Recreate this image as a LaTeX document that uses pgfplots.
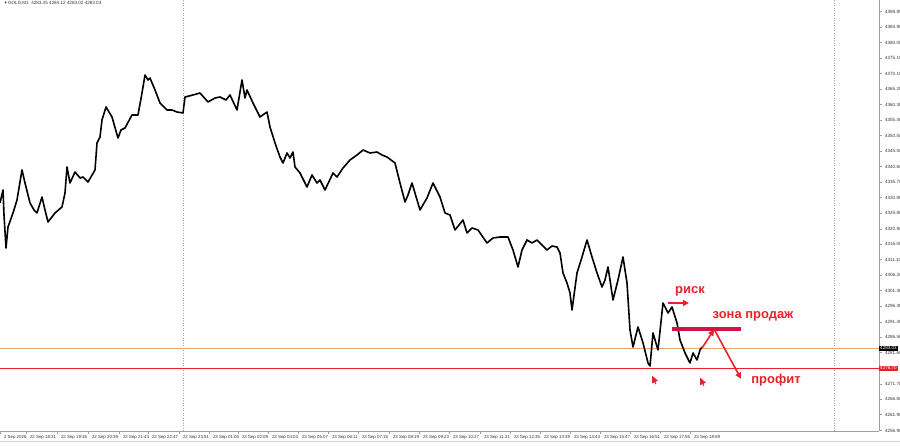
\documentclass[border=0pt]{standalone}
\usepackage{pgfplots}
\pgfplotsset{compat=1.18}
\usepackage{fontspec}
\setmainfont{Liberation Sans}
\newfontfamily\dejavu{DejaVu Sans}
\usetikzlibrary{arrows.meta}
\definecolor{mtred}{RGB}{232,34,40}
\definecolor{zonered}{RGB}{208,18,68}
\definecolor{priceline}{RGB}{228,168,110}
\begin{document}
\begin{tikzpicture}
\useasboundingbox (0bp,0bp) rectangle (900bp,447bp);
\begin{axis}[
  at={(0bp,16bp)}, anchor=south west,
  scale only axis, width=879bp, height=431bp,
  xmin=0, xmax=879, ymin=4256.74, ymax=4393.5,
  axis x line*=bottom, axis y line*=right,
  axis line style={gray!75, line width=0.6bp},
  clip=false,
  tick align=outside, major tick length=3bp,
  tick style={gray!75, line width=0.5bp},
  /pgf/number format/assume math mode=true,
  /pgf/number format/.cd, fixed, fixed zerofill, precision=2, 1000 sep={},
  /pgfplots/.cd,
  ytick={4389.85,4384.90,4380.00,4375.10,4370.10,4365.20,4360.30,4355.40,4350.50,4345.50,4340.60,4335.70,4330.80,4325.80,4320.90,4316.00,4311.10,4306.20,4301.30,4296.30,4291.40,4286.50,4281.60,4271.70,4266.80,4261.90,4256.90},
  yticklabel style={font=\fontsize{4.6}{5}\selectfont, text=black!80, anchor=west, xshift=-0.5bp},
  xtick={0,26,57,88,119,148,179,209,238,268,298,328,358,389,419,449,480,510,540,570,600,630,660,690},
  xticklabels={2 Sep 2026,22 Sep 18:31,22 Sep 19:35,22 Sep 20:39,22 Sep 21:43,22 Sep 22:47,22 Sep 23:51,23 Sep 01:05,23 Sep 02:09,23 Sep 04:03,23 Sep 05:07,23 Sep 06:11,23 Sep 07:15,23 Sep 08:19,23 Sep 09:23,23 Sep 10:27,23 Sep 11:31,23 Sep 12:35,23 Sep 13:39,23 Sep 14:43,23 Sep 15:47,23 Sep 16:51,23 Sep 17:55,23 Sep 18:59},
  xticklabel style={font=\fontsize{4.4}{5}\selectfont, text=black!80, anchor=north west, xshift=0.5bp, yshift=2bp},
]
% separators
\draw[gray!70, dash pattern=on 1bp off 1.5bp, line width=0.5bp] (axis cs:183,4256.74) -- (axis cs:183,4393.5);
\draw[gray!70, dash pattern=on 1bp off 1.5bp, line width=0.5bp] (axis cs:834,4256.74) -- (axis cs:834,4393.5);
% horizontal levels
\draw[priceline, line width=0.7bp] (axis cs:0,4283.03) -- (axis cs:879,4283.03);
\draw[mtred, line width=1.1bp] (axis cs:0,4276.70) -- (axis cs:879,4276.70);
% price series
\addplot[black, line width=1.6bp, line join=round] coordinates {
(0,4329.09)(3,4333.21)(4,4325.28)(6,4314.81)(8,4321.47)(13,4325.92)(17,4330.04)(22,4339.56)(25,4335.43)(30,4329.09)(34,4326.87)(37,4325.92)(42,4330.99)(45,4326.87)(48,4323.06)(55,4325.92)(62,4327.82)(65,4332.26)(67,4340.51)(70,4335.43)(75,4338.92)(80,4337.02)(83,4337.34)(88,4335.75)(95,4339.56)(97,4348.13)(100,4350.03)(102,4355.42)(106,4359.55)(112,4356.38)(118,4349.71)(121,4352.25)(125,4352.89)(132,4357.01)(138,4357.01)(142,4363.99)(145,4369.70)(148,4368.12)(150,4368.75)(155,4364.94)(160,4360.82)(167,4358.60)(172,4358.60)(177,4357.96)(183,4357.65)(185,4362.72)(193,4363.36)(200,4363.99)(208,4361.14)(215,4362.40)(220,4362.72)(226,4361.77)(230,4363.36)(237,4358.60)(240,4364.31)(242,4368.12)(245,4362.40)(247,4364.94)(253,4360.82)(260,4356.38)(267,4357.96)(270,4353.20)(275,4348.13)(280,4343.68)(283,4341.78)(287,4344.95)(290,4343.37)(293,4345.27)(295,4340.51)(300,4338.61)(307,4334.16)(312,4337.97)(317,4335.43)(320,4336.39)(325,4333.21)(333,4338.61)(337,4337.34)(343,4340.19)(350,4342.73)(357,4344.32)(363,4345.90)(370,4344.95)(377,4345.27)(382,4344.32)(387,4343.68)(395,4341.78)(400,4335.43)(405,4329.41)(408,4331.63)(412,4335.43)(420,4326.87)(427,4330.67)(433,4335.43)(440,4330.99)(445,4325.92)(450,4325.28)(455,4320.52)(463,4323.69)(467,4319.57)(472,4321.16)(478,4320.52)(487,4316.40)(493,4317.98)(500,4318.30)(508,4318.30)(513,4314.17)(518,4308.78)(522,4314.17)(527,4317.35)(532,4316.40)(537,4317.35)(542,4315.76)(547,4314.17)(552,4315.44)(557,4315.13)(560,4313.22)(563,4306.88)(567,4303.70)(570,4300.53)(572,4295.14)(577,4306.88)(582,4311.95)(587,4317.35)(592,4311.95)(597,4306.88)(602,4302.43)(605,4304.66)(608,4308.78)(613,4298.31)(618,4304.66)(623,4311.95)(627,4303.70)(630,4288.79)(633,4283.40)(638,4289.74)(643,4284.67)(648,4278.32)(650,4277.37)(653,4287.84)(658,4282.44)(663,4297.36)(668,4294.19)(672,4296.09)(677,4291.01)(680,4285.62)(685,4281.49)(690,4278.32)(693,4281.49)(697,4279.27)(700,4282.44)(702,4283.40)
};
% annotations
\draw[zonered, line width=3.5bp] (axis cs:672,4289.11) -- (axis cs:741,4289.11);
\draw[mtred, line width=1.5bp, -{Triangle[length=6bp,width=6bp]}] (axis cs:668,4297.36) -- (axis cs:689,4297.36);
\draw[mtred, line width=1.6bp, -{Triangle[length=6bp,width=6bp]}] (axis cs:702,4283.08) -- (axis cs:714,4288.9);
\draw[mtred, line width=1.6bp, -{Triangle[length=6bp,width=6bp]}] (axis cs:714,4289.11) -- (axis cs:741,4273.3);
\draw[mtred, line width=1bp, -{Triangle[length=7bp,width=6bp]}] (axis cs:656,4271.6) -- (axis cs:652,4274.3);
\draw[mtred, line width=1bp, -{Triangle[length=7bp,width=6bp]}] (axis cs:704,4271.0) -- (axis cs:700,4273.7);
\node[mtred, font=\bfseries\fontsize{13}{14}\selectfont] at (axis cs:690,4300.9) {риск};
\node[mtred, font=\bfseries\fontsize{13}{14}\selectfont] at (axis cs:753,4293.2) {зона продаж};
\node[mtred, font=\bfseries\fontsize{13}{14}\selectfont] at (axis cs:776,4272.9) {профит};
% title
\node[anchor=west, font=\fontsize{4.6}{5}\selectfont, text=black!80] at (axis cs:1,4392.4) {{\dejavu ▾} GOLD,M1\ \ 4283.45 4284.12 4283.02 4283.03};
% price boxes
\node[fill=black, text=white, anchor=west, inner xsep=1bp, inner ysep=0.8bp, font=\fontsize{4.6}{5}\selectfont] at (axis cs:879,4283.03) {4283.03};
\node[fill=mtred, text=white, anchor=west, inner xsep=1bp, inner ysep=0.8bp, font=\fontsize{4.6}{5}\selectfont] at (axis cs:879,4276.70) {4276.70};
\end{axis}
\draw[gray!35, line width=0.5bp] (0bp,6bp) -- (900bp,6bp);
\end{tikzpicture}
\end{document}
